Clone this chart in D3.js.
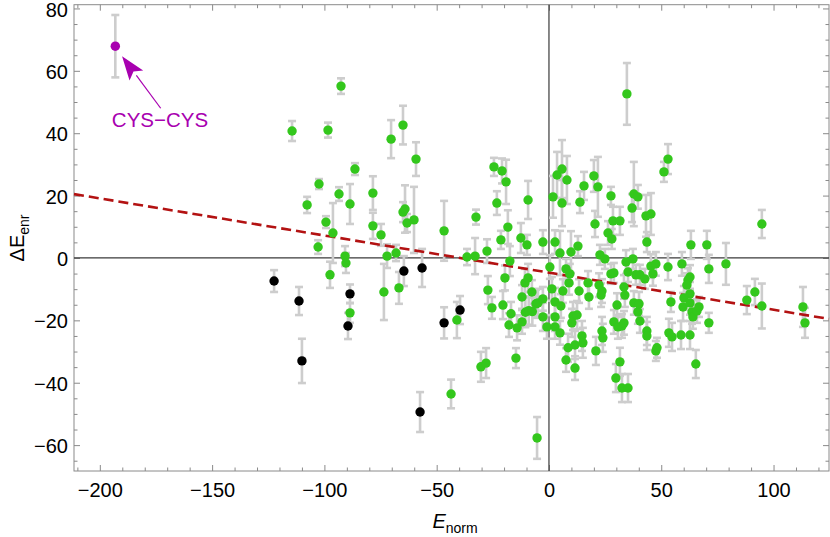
<!DOCTYPE html>
<html><head><meta charset="utf-8">
<script src="https://cdn.jsdelivr.net/npm/d3@7"></script>
<style>body{margin:0;background:#fff}svg{display:block}text{font-family:"Liberation Sans",Arial,Helvetica,sans-serif}</style>
</head><body><svg id="c" width="830" height="537"></svg>
<script>
// ---- data ----
const greenE = [-114.4,-107.7,-102.4,-99.3,-98.4,-97.5,-96.2,-93.5,-92.6,-90.8,-90.4,-88.6,-88.6,-86.4,-78.4,-78.4,-74.8,-73.5,-72.1,-70.3,-68.1,-66.8,-65.0,-65.0,-64.1,-63.2,-60.1,-59.2,-46.7,-43.6,-41.0,-36.5,-102.8,
-24.5,-20.9,-19.1,-23.2,-9.3,-32.5,-18.3,-21.4,-12.5,-9.8,-27.6,-32.9,-17.4,-2.7,1.8,3.6,5.8,8.0,5.8,2.7,4.9,9.8,12.9,0.4,7.6,9.3,15.6,13.8,20.0,21.8,20.5,26.3,28.0,28.5,31.6,27.6,22.7,24.9,37.0,37.8,39.6,43.2,43.6,34.3,35.2,37.4,27.6,28.9,40.5,34.7,
-19.6,-27.2,-25.4,-20.5,-16.9,-17.8,-14.2,-12.0,-12.0,-7.6,-10.7,-9.3,-10.5,-9.0,-7.4,-5.8,-4.9,-2.7,-2.7,-0.9,1.3,2.7,2.7,2.7,-14.7,-30.3,-28.0,-5.3,
8.9,6.2,13.4,17.4,17.8,5.3,4.9,10.7,12.5,10.2,14.7,15.1,11.6,8.5,7.6,11.6,20.9,22.3,23.6,23.2,23.6,24.0,30.3,28.9,30.7,32.5,33.4,33.4,33.8,31.6,29.8,32.5,35.2,38.7,42.7,37.8,39.6,40.5,40.1,43.6,43.6,45.4,
53.0,51.2,45.4,63.2,70.3,78.8,71.2,59.2,53.0,47.6,46.3,54.3,62.8,61.9,61.4,62.8,60.1,59.7,62.8,63.7,64.1,65.9,66.8,71.2,58.8,62.8,53.4,54.8,47.6,48.1,65.4,94.8,88.1,91.7,94.8,113.1,114.0];
const greenDE = [40.7,17.0,23.7,11.5,41.0,-5.4,8.0,20.5,55.1,0.6,-1.6,17.3,-17.6,28.5,20.8,10.3,7.4,-10.9,0.6,38.1,1.6,-9.6,42.6,14.7,15.7,11.2,12.2,31.7,8.7,-43.6,-19.9,0.3,3.5,
29.2,27.9,24.4,17.6,18.6,13.1,9.9,5.8,6.4,4.2,2.2,0.6,-1.0,5.1,19.6,26.6,28.5,25.0,17.6,5.1,1.6,1.9,3.8,-2.9,-3.5,-5.1,23.1,17.9,26.3,22.8,10.9,8.0,6.1,11.9,11.9,19.9,1.0,-0.3,16.0,20.5,19.6,13.5,5.1,-1.3,-4.5,-0.3,-5.1,-4.8,-5.4,52.6,
-6.4,-10.3,-16.0,-15.1,-17.9,-21.5,-22.4,-20.5,-12.5,-10.9,-8.0,-6.4,-17.4,-16.9,-17.2,-14.7,-14.4,-13.1,-18.9,-22.1,-9.9,-14.1,-18.9,-22.1,-32.1,-34.9,-33.7,-57.7,
-8.0,-10.6,-10.6,-8.0,-12.5,-15.4,-24.0,-18.6,-18.3,-20.8,-25.0,-27.2,-27.9,-28.8,-32.7,-35.3,-29.8,-8.7,-10.6,-11.9,-23.4,-25.6,-15.1,-20.5,-22.1,-21.8,-20.8,-9.3,-11.9,-33.3,-38.5,-41.7,-41.7,-5.4,-6.7,-14.4,-17.3,-20.2,-14.7,-23.4,-25.0,-2.6,
31.7,27.6,14.1,4.2,4.2,-1.9,-3.5,-1.9,-2.9,-1.9,-5.1,-14.1,-6.1,-7.1,-8.7,-11.5,-12.8,-15.7,-14.4,-17.3,-18.9,-17.0,-15.7,-20.8,-24.7,-24.7,-24.0,-25.3,-29.8,-28.8,-34.0,10.9,-13.5,-10.9,-15.4,-15.7,-20.8];
const greenErr = [3.2,2.6,1.6,1.9,2.4,4.2,9.6,2.2,2.5,3.2,3.2,6.4,3.2,1.9,5.4,4.2,3.5,9.0,3.8,6.1,2.6,5.1,6.2,3.2,7.6,2.9,10.6,5.4,9.6,4.6,5.8,2.6,2.2,
2.9,4.0,7.1,3.8,6.1,2.4,5.4,2.9,4.8,3.2,3.8,5.8,4.8,3.8,6.7,7.4,9.3,7.7,7.4,3.8,7.1,6.7,3.2,3.8,3.2,3.2,4.5,3.5,5.1,9.6,4.2,3.8,3.2,4.5,4.5,2.9,3.2,3.2,4.5,10.3,3.8,6.7,3.2,3.8,3.2,3.2,3.2,3.2,3.2,9.9,
4.0,4.5,3.5,4.5,3.8,3.8,4.0,3.8,3.8,3.8,4.5,4.5,4.8,4.5,4.5,4.5,4.5,3.8,4.5,3.8,3.8,4.5,4.5,3.8,3.2,4.8,4.8,6.7,
3.8,3.8,3.8,3.8,3.8,3.8,3.8,4.5,4.5,4.5,4.8,4.8,4.5,4.5,3.8,3.8,4.5,3.8,3.8,3.8,4.5,4.5,3.8,3.8,3.8,3.8,3.8,3.8,3.8,4.5,4.5,4.5,4.5,3.2,3.2,3.8,3.8,3.8,3.8,4.5,4.5,3.8,
4.8,3.2,6.7,4.5,4.5,6.7,4.5,3.8,4.2,3.8,3.8,3.2,3.8,3.8,3.8,3.8,3.8,4.5,3.8,3.8,3.8,3.8,3.2,3.2,4.5,4.5,4.5,4.5,3.2,3.2,4.5,4.5,4.5,4.2,7.2,6.4,4.8];
const blackE = [-122.4,-111.3,-110.0,-89.5,-88.6,-64.6,-57.4,-56.5,-46.7,-39.6];
const blackDE = [-7.4,-13.8,-33.0,-21.8,-11.5,-4.2,-49.4,-3.2,-20.8,-16.7];
const blackErr = [3.5,4.5,7.1,4.2,3.0,4.8,6.4,6.1,5.0,4.5];
const outlierE = [-193.1];
const outlierDE = [67.9];
const outlierErr = [10.0];
const outlierLabel = "CYS\u2212CYS";
const fitIntercept = -4.7, fitSlope = -0.119;
const xMajorTicks = [-200,-150,-100,-50,0,50,100];
const yMajorTicks = [-60,-40,-20,0,20,40,60,80];

// ---- layout ----
const svg = d3.select("#c");
const L = 74, R = 829, T = 4.7, B = 471;
const x = d3.scaleLinear().domain([-211.5, 124.7]).range([L, R]);
const y = d3.scaleLinear().domain([-68.3, 81.2]).range([B, T]);
const frameCol = "#8a8a8a";
const fmt = d => d < 0 ? "\u2212" + Math.abs(d) : String(d);

const xMinor = d3.range(-210, 125, 10).filter(v => !xMajorTicks.includes(v));
const yMinor = d3.range(-65, 81, 5).filter(v => !yMajorTicks.includes(v));

function styleAxis(g, labels) {
  g.select(".domain").remove();
  g.selectAll("line").attr("stroke", frameCol);
  g.selectAll("text").attr("font-size", 20).attr("fill", "#000");
  if (!labels) g.selectAll("text").remove();
}
// bottom
svg.append("g").attr("transform", `translate(0,${B})`)
  .call(d3.axisBottom(x).tickValues(xMajorTicks).tickSize(-6).tickPadding(12).tickFormat(fmt)).call(g => styleAxis(g, true));
svg.append("g").attr("transform", `translate(0,${B})`)
  .call(d3.axisBottom(x).tickValues(xMinor).tickSize(-3.5)).call(g => styleAxis(g, false));
// top
svg.append("g").attr("transform", `translate(0,${T})`)
  .call(d3.axisTop(x).tickValues(xMajorTicks).tickSize(-6)).call(g => styleAxis(g, false));
svg.append("g").attr("transform", `translate(0,${T})`)
  .call(d3.axisTop(x).tickValues(xMinor).tickSize(-3.5)).call(g => styleAxis(g, false));
// left
svg.append("g").attr("transform", `translate(${L},0)`)
  .call(d3.axisLeft(y).tickValues(yMajorTicks).tickSize(-6).tickPadding(6).tickFormat(fmt))
  .call(g => styleAxis(g, true))
  .call(g => g.selectAll("text").attr("dy", "0.38em"));
svg.append("g").attr("transform", `translate(${L},0)`)
  .call(d3.axisLeft(y).tickValues(yMinor).tickSize(-3.5)).call(g => styleAxis(g, false));
// right
svg.append("g").attr("transform", `translate(${R},0)`)
  .call(d3.axisRight(y).tickValues(yMajorTicks).tickSize(-6)).call(g => styleAxis(g, false));
svg.append("g").attr("transform", `translate(${R},0)`)
  .call(d3.axisRight(y).tickValues(yMinor).tickSize(-3.5)).call(g => styleAxis(g, false));

// frame
svg.append("rect").attr("x", L).attr("y", T).attr("width", R - L).attr("height", B - T)
  .attr("fill", "none").attr("stroke", frameCol).attr("stroke-width", 1);

// zero axes
svg.append("line").attr("x1", x(0)).attr("x2", x(0)).attr("y1", T).attr("y2", B).attr("stroke", "#3a3a3a").attr("stroke-width", 1.2);
svg.append("line").attr("x1", L).attr("x2", R).attr("y1", y(0)).attr("y2", y(0)).attr("stroke", "#3a3a3a").attr("stroke-width", 1.2);

// points
const green = greenE.map((v, i) => ({x: v, y: greenDE[i], e: greenErr[i], c: "#33c71c"}));
const black = blackE.map((v, i) => ({x: v, y: blackDE[i], e: blackErr[i], c: "#000"}));
const outl = outlierE.map((v, i) => ({x: v, y: outlierDE[i], e: outlierErr[i], c: "#a800b0"}));
const all = green.concat(black, outl);

const eb = svg.append("g").attr("stroke", "#cdcdcd").attr("stroke-width", 2.6).attr("fill", "none");
all.forEach(d => {
  const cx = x(d.x), y1 = y(d.y + d.e), y2 = y(d.y - d.e);
  eb.append("line").attr("x1", cx).attr("x2", cx).attr("y1", y1).attr("y2", y2);
  eb.append("line").attr("x1", cx - 4).attr("x2", cx + 4).attr("y1", y1).attr("y2", y1);
  eb.append("line").attr("x1", cx - 4).attr("x2", cx + 4).attr("y1", y2).attr("y2", y2);
});

// fit line
svg.append("line")
  .attr("x1", x(-211.5)).attr("y1", y(fitIntercept + fitSlope * -211.5))
  .attr("x2", x(124.7)).attr("y2", y(fitIntercept + fitSlope * 124.7))
  .attr("stroke", "#b31212").attr("stroke-width", 2.6).attr("stroke-dasharray", "10,5");

svg.append("g").selectAll("circle").data(all).join("circle")
  .attr("cx", d => x(d.x)).attr("cy", d => y(d.y)).attr("r", 4.7).attr("fill", d => d.c);

// annotation arrow
const tipX = x(-190.1), tipY = y(64.7), tailX = x(-172.9), tailY = y(48.0);
const ang = Math.atan2(tipY - tailY, tipX - tailX);
const hl = 24, hw = 8.5;
const bx = tipX - hl * Math.cos(ang), by = tipY - hl * Math.sin(ang);
svg.append("line").attr("x1", tailX).attr("y1", tailY).attr("x2", bx).attr("y2", by)
  .attr("stroke", "#a800b0").attr("stroke-width", 1.2);
svg.append("polygon").attr("fill", "#a800b0")
  .attr("points", [[tipX, tipY],
    [bx + hw * Math.sin(ang), by - hw * Math.cos(ang)],
    [tipX - hl*0.8 * Math.cos(ang), tipY - hl*0.8 * Math.sin(ang)],
    [bx - hw * Math.sin(ang), by + hw * Math.cos(ang)]].map(p => p.join(",")).join(" "));
svg.append("text").attr("x", x(-173.2)).attr("y", y(42.0)).attr("text-anchor", "middle")
  .attr("font-size", 20.5).attr("fill", "#a800b0").text(outlierLabel);

// axis titles
const xt = svg.append("text").attr("x", 455).attr("y", 528).attr("text-anchor", "middle").attr("font-size", 20);
xt.append("tspan").attr("font-style", "italic").text("E");
xt.append("tspan").attr("font-size", 14).attr("dy", 5).text("norm");
const yt = svg.append("text").attr("transform", "translate(24,238) rotate(-90)").attr("text-anchor", "middle").attr("font-size", 20);
yt.append("tspan").text("\u0394E");
yt.append("tspan").attr("font-size", 14).attr("dy", 5).text("enr");
</script></body></html>
